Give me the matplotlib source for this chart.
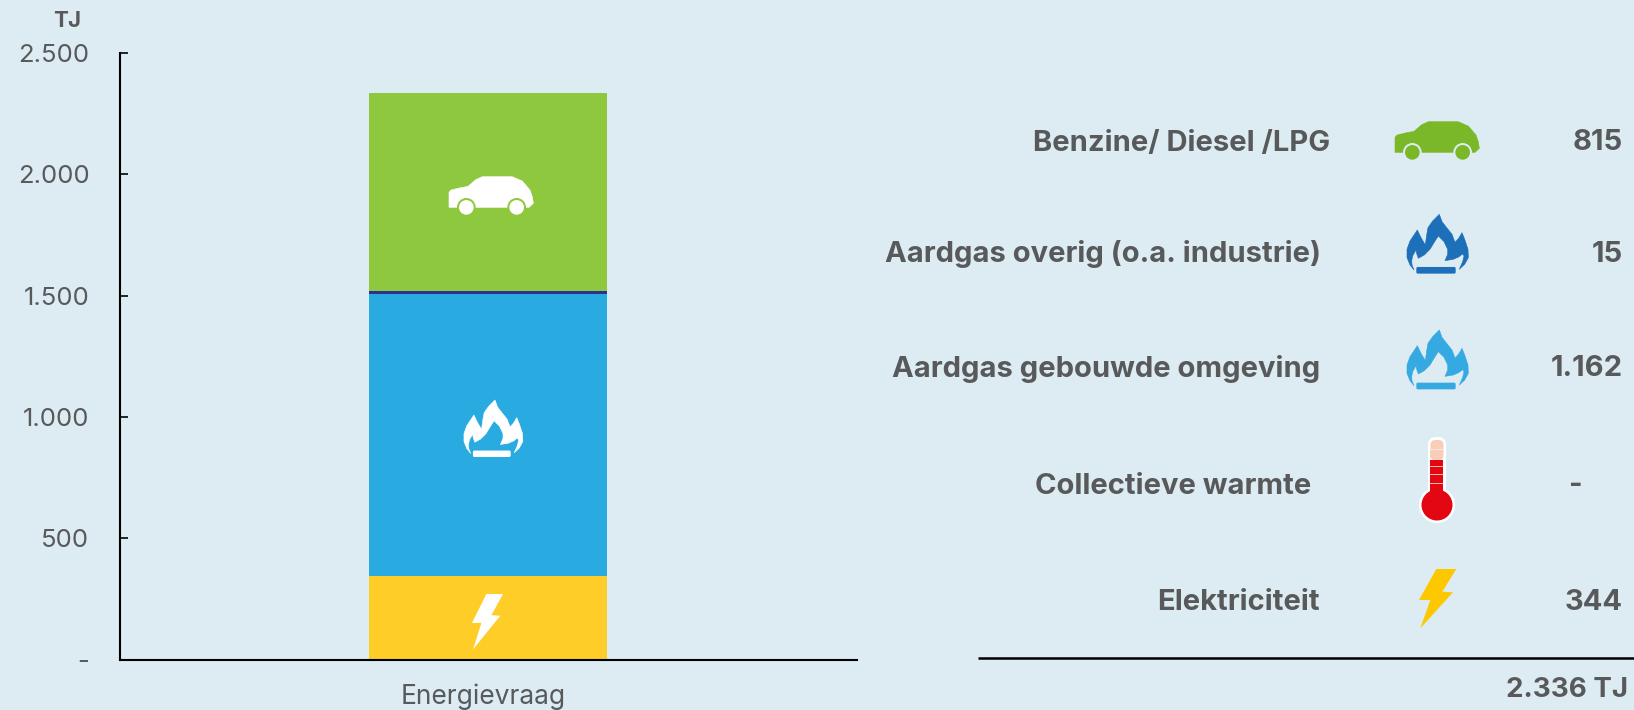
import matplotlib
matplotlib.use("Agg")
import matplotlib.pyplot as plt
from matplotlib.patches import Polygon, Circle, FancyBboxPatch, Rectangle

plt.rcParams['font.family'] = ['Inter', 'DejaVu Sans']

# data
category = ["Energievraag"]
series_names = ["Elektriciteit", "Aardgas gebouwde omgeving", "Aardgas overig", "Benzine/Diesel/LPG"]
series_values = [344, 1162, 15, 815]
series_colors = ["#ffcd27", "#29abe2", "#2e3192", "#8dc83f"]
y_ticks = [0, 500, 1000, 1500, 2000, 2500]
y_labels = ["-", "500", "1.000", "1.500", "2.000", "2.500"]

legend_labels = ["Benzine/ Diesel /LPG", "Aardgas overig (o.a. industrie)", "Aardgas gebouwde omgeving",
                 "Collectieve warmte", "Elektriciteit"]
legend_values = ["815", "15", "1.162", "-", "344"]
total_label = "2.336 TJ"

BG = "#ddecf3"
TEXT = "#58595b"
W, H = 1634, 710

fig = plt.figure(figsize=(W / 100, H / 100), dpi=100, facecolor=BG)

# stacked bar
ax = fig.add_axes([120 / W, 1 - 659.5 / H, 737 / W, 606.5 / H], facecolor="none")
bottom = 0
for val, col in zip(series_values, series_colors):
    ax.bar(0, val, width=238 / 737, bottom=bottom, color=col)
    bottom += val
ax.set_xlim(-0.499, 0.501)
ax.set_ylim(0, 2500)
ax.spines['top'].set_visible(False)
ax.spines['right'].set_visible(False)
ax.spines['left'].set_linewidth(1.5)
ax.spines['bottom'].set_linewidth(1.5)
ax.set_yticks(y_ticks, y_labels, fontsize=18.5, color=TEXT)
ax.tick_params(axis='y', direction='in', length=6, width=1.2, pad=22)
ax.set_xticks([-0.006], category, fontsize=19, color=TEXT)
ax.tick_params(axis='x', length=0, pad=17)

# overlay in pixel coordinates for the table and the icons
ov = fig.add_axes([0, 0, 1, 1], facecolor="none")
ov.set_xlim(0, W)
ov.set_ylim(H, 0)
ov.axis('off')


def car(x, y, col, ring, s=1 / 3):
    body = [(0, 47), (6, 40), (35, 33), (57, 29), (80, 9), (100, 0), (190, 0), (220, 13), (243, 40), (250, 60),
            (253, 80), (240, 92), (0, 92)]
    ov.add_patch(Polygon([(x + a * s, y + b * s) for a, b in body], fc=col, ec=col, lw=0.4, joinstyle='round'))
    for wx in (52, 203):
        ov.add_patch(Circle((x + wx * s, y + 92 * s), 28 * s, fc=ring, ec='none'))
        ov.add_patch(Circle((x + wx * s, y + 92 * s), 22 * s, fc=col, ec='none'))


def flame(x, y, col, s=1 / 3):
    pts = [(24, 167), (12, 152), (3, 130), (3, 105), (12, 80), (24, 62), (34, 47), (44, 68), (58, 92), (62, 62),
           (66, 40), (80, 20), (100, 0), (108, 22), (122, 40), (138, 60), (147, 84), (158, 72), (168, 55), (176, 75),
           (186, 105), (187, 130), (176, 150), (160, 165), (170, 142), (174, 125), (170, 119), (158, 128),
           (142, 135), (117, 139), (125, 120), (125, 105), (114, 82), (97, 65), (86, 82), (72, 105), (55, 122),
           (37, 132), (32, 118), (30, 107), (20, 125), (17, 140), (18, 152)]
    ov.add_patch(Polygon([(x + a * s, y + b * s) for a, b in pts], fc=col, ec=col, lw=0.4, joinstyle='round'))
    ov.add_patch(FancyBboxPatch((x + 31 * s, y + 158 * s), 118 * s, 20 * s, boxstyle="round,pad=0,rounding_size=1.5",
                                fc=col, ec='none'))


def bolt(x, y, col, sx=1 / 3, sy=1 / 3):
    pts = [(52, 0), (112, 0), (70, 68), (102, 70), (4, 178), (34, 93), (0, 93)]
    ov.add_patch(Polygon([(x + a * sx, y + b * sy) for a, b in pts], fc=col, ec='none'))


def thermometer(cx, cy):
    # cx is the tube centre, cy the middle of the bulb
    ov.add_patch(FancyBboxPatch((cx - 9, cy - 68), 18, 70, boxstyle="round,pad=0,rounding_size=8", fc='white', ec='none'))
    ov.add_patch(Circle((cx, cy), 18, fc='white', ec='none'))
    ov.add_patch(FancyBboxPatch((cx - 6.5, cy - 65), 13, 20, boxstyle="round,pad=0,rounding_size=5", fc='#f9cdb8', ec='none'))
    ov.add_patch(Rectangle((cx - 6.5, cy - 54), 13, 7, fc='#f9cdb8', ec='none'))
    ov.add_patch(Rectangle((cx - 6.5, cy - 45), 13, 35, fc='#e30613', ec='none'))
    ov.add_patch(Rectangle((cx - 6.5, cy - 56), 13, 1.2, fc='#fbe6dc', ec='none'))
    for dy in (-39, -31, -22):
        ov.add_patch(Rectangle((cx - 6.5, cy + dy), 13, 1.3, fc='#f7b5a8', ec='none'))
    ov.add_patch(Circle((cx, cy), 15.5, fc='#e30613', ec='none'))


# icons inside the bar
car(449, 176.7, 'white', series_colors[3])
flame(463, 400, 'white', s=0.32)
bolt(472, 594, 'white', sx=0.277, sy=0.311)

# icons in the table
car(1395, 121.7, '#7ab829', BG)
flame(1406, 214.3, '#1c6fb8')
flame(1406, 330, '#35a9e1')
thermometer(1437, 505)
bolt(1419, 569, '#fdc800')

# table
label_right = [1330, 1321, 1320, 1311, 1320]
row_y = [143, 254, 369, 486, 602]
value_right = [1623, 1623, 1623, 1583, 1623]
for lab, val, xr, xv, y in zip(legend_labels, legend_values, label_right, value_right, row_y):
    ov.text(xr, y, lab, ha='right', va='center', fontsize=21, fontweight='bold', color=TEXT)
    ov.text(xv, y, val, ha='right', va='center', fontsize=21, fontweight='bold', color=TEXT)

ov.plot([978, W], [657.5, 657.5], color='black', lw=1.8, solid_capstyle='butt')
ov.text(1628, 690, total_label, ha='right', va='center', fontsize=20, fontweight='bold', color=TEXT)
ov.text(67, 21, "TJ", ha='center', va='center', fontsize=16, fontweight='bold', color=TEXT)

fig.savefig("out.png", dpi=100, facecolor=BG)
